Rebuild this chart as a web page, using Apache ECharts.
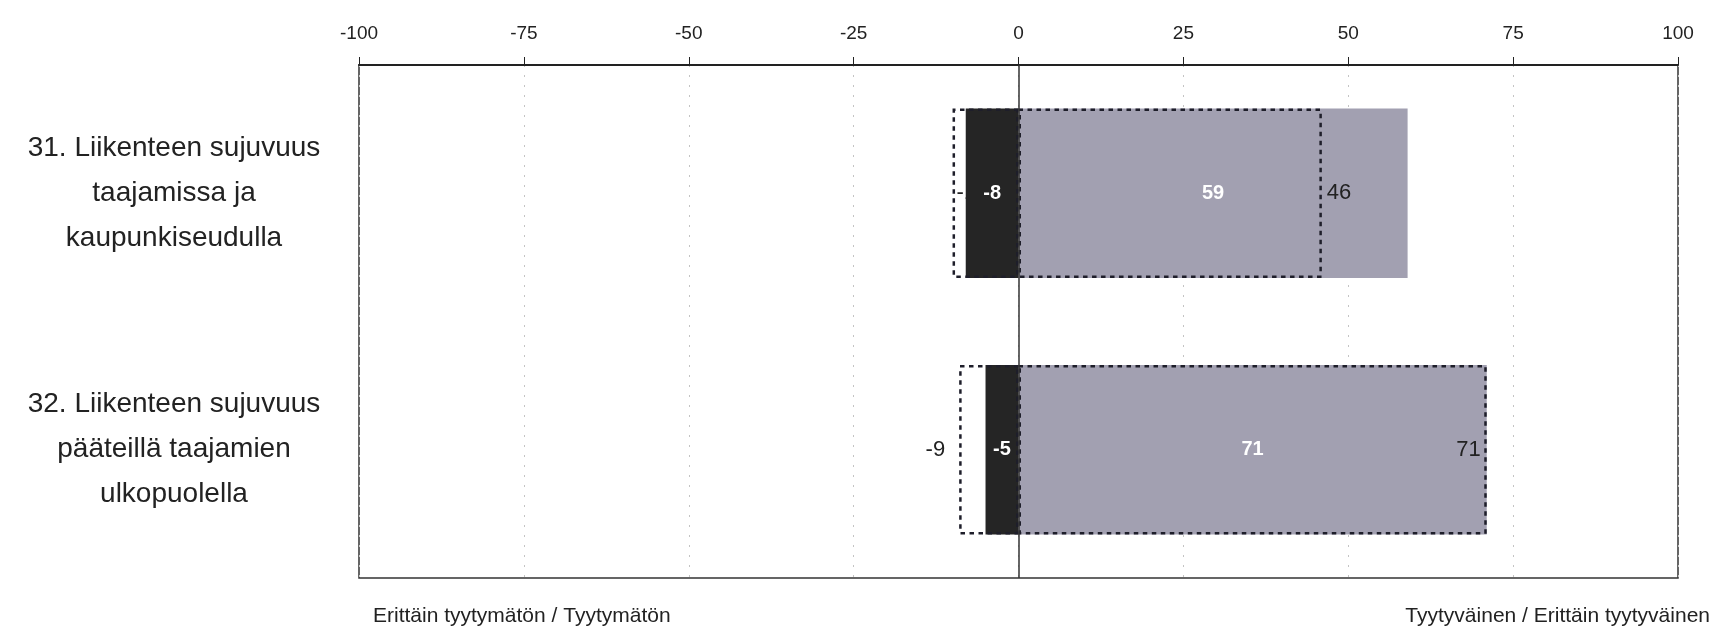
<!DOCTYPE html>
<html>
<head>
<meta charset="utf-8">
<script src="https://cdn.jsdelivr.net/npm/echarts@6/dist/echarts.min.js"></script>
<style>
html,body{margin:0;padding:0;background:#fff;}
#chart{width:1719px;height:642px;}
</style>
</head>
<body>
<div id="chart"></div>
<script>
// ---- data ----
var categories = [
  '31. Liikenteen sujuvuus\ntaajamissa ja\nkaupunkiseudulla',
  '32. Liikenteen sujuvuus\npääteillä taajamien\nulkopuolella'
];
var dissatisfied = [-8, -5];        // Erittäin tyytymätön / Tyytymätön
var satisfied = [59, 71];           // Tyytyväinen / Erittäin tyytyväinen
var prevDissatisfied = [-10, -9];   // comparison (dotted outline)
var prevSatisfied = [46, 71];       // comparison (dotted outline)
var xTicks = [-100, -75, -50, -25, 0, 25, 50, 75, 100];
var leftNote = 'Erittäin tyytymätön / Tyytymätön';
var rightNote = 'Tyytyväinen / Erittäin tyytyväinen';

var narrow = "'Liberation Sans Narrow', 'Arial Narrow', 'Liberation Sans', Arial, sans-serif";
var regular = "'Liberation Sans', Arial, sans-serif";

var chart = echarts.init(document.getElementById('chart'), null, {renderer: 'canvas'});

var outline = {
  color: 'rgba(0,0,0,0)',
  borderColor: '#1e1e2a',
  borderWidth: 2.5,
  borderType: [2, 7],
  borderCap: 'square'
};

var option = {
  backgroundColor: '#ffffff',
  animation: false,
  grid: {
    left: 359, right: 41, top: 65, bottom: 64,
    show: true, borderColor: '#333', borderWidth: 1.5, backgroundColor: 'transparent'
  },
  xAxis: {
    type: 'value',
    position: 'top',
    min: xTicks[0],
    max: xTicks[xTicks.length - 1],
    interval: xTicks[1] - xTicks[0],
    axisLine: {show: true, onZero: false, lineStyle: {color: '#222', width: 2}},
    axisTick: {show: true, length: 8, lineStyle: {color: '#222', width: 1}},
    splitLine: {show: true, lineStyle: {color: '#c4c4c4', type: [2, 8], width: 1}},
    axisLabel: {
      margin: 22, fontSize: 19, color: '#222', fontFamily: narrow,
      formatter: function (v) { return String(v); }
    }
  },
  yAxis: {
    type: 'category',
    inverse: true,
    data: categories,
    axisLine: {show: false},
    axisTick: {show: false},
    splitLine: {show: false},
    axisLabel: {
      margin: 185, align: 'center', fontSize: 28, lineHeight: 45,
      color: '#222', fontFamily: regular
    }
  },
  series: [
    {
      // label for the comparison negative value (partly covered by bar, as in original)
      name: 'prevNegLabel', type: 'bar', z: 1, barGap: '-100%', barCategoryGap: '34%',
      data: prevDissatisfied.map(function (v, i) {
        return {
          value: v,
          label: i === 0
            ? {show: true, position: [4, '50%'], verticalAlign: 'middle', align: 'left'}
            : {show: true, position: 'left', distance: 14}
        };
      }),
      itemStyle: {color: 'rgba(0,0,0,0)'},
      label: {fontSize: 22, color: '#222', fontFamily: narrow},
      silent: true
    },
    {
      name: 'dissatisfied', type: 'bar', z: 2, barGap: '-100%', barCategoryGap: '34%',
      data: dissatisfied,
      itemStyle: {color: '#252525'},
      label: {show: true, position: 'inside', color: '#fff', fontSize: 20, fontWeight: 'bold', fontFamily: narrow},
      markLine: {
        silent: true, symbol: 'none', label: {show: false},
        lineStyle: {color: '#333', type: 'solid', width: 1.5},
        data: [{xAxis: 0}]
      }
    },
    {
      name: 'satisfied', type: 'bar', z: 2, barGap: '-100%', barCategoryGap: '34%',
      data: satisfied,
      itemStyle: {color: '#a2a0b1'},
      label: {show: true, position: 'inside', color: '#fff', fontSize: 20, fontWeight: 'bold', fontFamily: narrow}
    },
    {
      name: 'prevDissatisfied', type: 'bar', z: 3, barGap: '-100%', barCategoryGap: '34%',
      data: prevDissatisfied,
      itemStyle: outline,
      label: {show: false}
    },
    {
      name: 'prevSatisfied', type: 'bar', z: 3, barGap: '-100%', barCategoryGap: '34%',
      data: prevSatisfied.map(function (v, i) {
        return {
          value: v,
          label: i === 0
            ? {show: true, position: 'right', distance: 5}
            : {show: true, position: 'insideRight', distance: 6}
        };
      }),
      itemStyle: outline,
      label: {fontSize: 22, color: '#222', fontFamily: narrow}
    }
  ],
  graphic: [
    {type: 'text', left: 373, top: 606, style: {text: leftNote, fontSize: 21, fill: '#222', font: '21px ' + narrow}},
    {type: 'text', right: 9, top: 606, style: {text: rightNote, fontSize: 21, fill: '#222', font: '21px ' + narrow}}
  ]
};

chart.setOption(option);
</script>
</body>
</html>
